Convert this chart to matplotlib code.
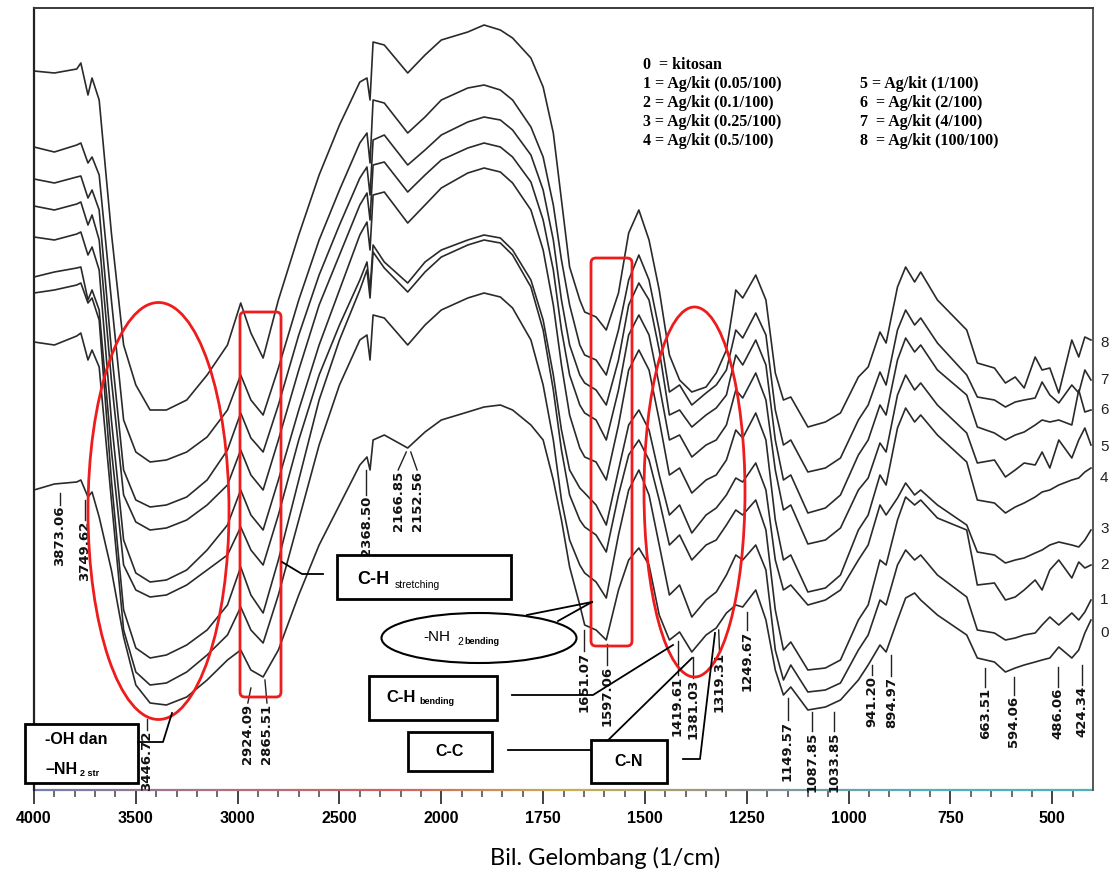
import numpy as np
import matplotlib
matplotlib.use("Agg")
import matplotlib.pyplot as plt
import matplotlib.transforms as mtransforms
from matplotlib.patches import Ellipse, Rectangle, FancyBboxPatch
from matplotlib.lines import Line2D
from matplotlib.collections import LineCollection
from matplotlib.colors import LinearSegmentedColormap
from matplotlib.ticker import FixedLocator

W, H = 1116, 875

# wavenumber grid (1/cm) where the spectra were read
wavenumber = [4000, 3900, 3790, 3770, 3735, 3715, 3680, 3620, 3560, 3500,
              3430, 3350, 3250, 3150, 3050, 2985, 2935, 2875, 2800, 2700,
              2600, 2500, 2400, 2365, 2350, 2335, 2280, 2165, 2080, 2000,
              1935, 1895, 1855, 1825, 1780, 1750, 1725, 1705, 1685, 1660,
              1648, 1620, 1595, 1565, 1540, 1515, 1490, 1465, 1440, 1415,
              1385, 1350, 1325, 1300, 1277, 1260, 1228, 1203, 1180, 1160,
              1142, 1100, 1057, 1020, 976, 952, 923, 908, 880, 860,
              838, 823, 782, 710, 684, 642, 615, 591, 569, 542,
              525, 506, 484, 452, 435, 420, 405]

# stacked spectra, vertical position (a.u., measured downward from the frame top)
s8 = [71, 73, 69, 63, 95, 78, 100, 233, 345, 385,
      410, 410, 400, 375, 345, 303, 333, 358, 300, 235,
      175, 125, 82, 78, 100, 42, 45, 73, 55, 40,
      32, 25, 30, 38, 58, 87, 133, 200, 267, 300,
      312, 317, 330, 293, 233, 210, 240, 290, 355, 380,
      392, 387, 373, 350, 290, 298, 275, 300, 373, 400,
      397, 427, 422, 413, 377, 367, 332, 343, 287, 267,
      282, 272, 300, 330, 363, 368, 383, 377, 388, 357,
      370, 368, 393, 340, 357, 337, 340]
s7 = [147, 152, 145, 143, 163, 157, 175, 300, 420, 452,
      462, 460, 452, 437, 410, 375, 400, 415, 368, 300,
      240, 190, 143, 133, 163, 100, 103, 133, 117, 100,
      88, 85, 90, 100, 127, 157, 205, 260, 305, 345,
      355, 360, 375, 330, 280, 255, 280, 330, 392, 385,
      405, 393, 385, 370, 330, 338, 313, 335, 410, 445,
      440, 472, 468, 458, 420, 405, 372, 385, 330, 310,
      325, 318, 343, 375, 397, 400, 407, 402, 400, 398,
      382, 395, 403, 385, 393, 370, 380]
s6 = [179, 183, 177, 176, 198, 190, 210, 350, 470, 500,
      507, 505, 497, 480, 450, 413, 438, 452, 405, 335,
      275, 225, 178, 167, 195, 140, 135, 165, 150, 135,
      122, 117, 120, 130, 155, 190, 240, 300, 345, 375,
      383, 390, 405, 360, 305, 283, 300, 350, 415, 410,
      427, 415, 408, 395, 355, 365, 340, 365, 440, 480,
      475, 513, 508, 495, 455, 440, 405, 415, 360, 338,
      352, 345, 370, 395, 427, 433, 440, 435, 432, 425,
      420, 422, 420, 425, 390, 412, 410]
s5 = [206, 210, 204, 202, 225, 215, 240, 380, 495, 522,
      530, 528, 520, 505, 485, 450, 475, 490, 440, 370,
      305, 255, 205, 193, 220, 165, 162, 192, 175, 160,
      148, 143, 147, 157, 182, 220, 270, 330, 375, 405,
      413, 420, 440, 390, 335, 315, 335, 385, 440, 435,
      457, 445, 440, 425, 390, 398, 373, 400, 470, 510,
      505, 544, 540, 528, 490, 478, 443, 452, 395, 375,
      390, 383, 405, 433, 463, 460, 477, 470, 463, 465,
      452, 468, 440, 458, 440, 428, 445]
s4 = [237, 240, 234, 232, 255, 247, 270, 420, 540, 573,
      582, 580, 570, 550, 525, 490, 515, 530, 480, 410,
      345, 290, 235, 222, 250, 195, 192, 223, 205, 188,
      173, 168, 172, 183, 210, 250, 305, 365, 415, 448,
      457, 462, 480, 425, 370, 350, 370, 420, 475, 468,
      493, 480, 475, 460, 430, 438, 413, 440, 520, 560,
      555, 592, 588, 575, 530, 515, 475, 485, 428, 408,
      422, 415, 435, 462, 500, 503, 513, 507, 503, 497,
      492, 490, 485, 480, 478, 472, 468]
s3 = [277, 272, 268, 267, 300, 290, 310, 450, 565, 590,
      597, 595, 585, 570, 555, 527, 550, 565, 515, 440,
      375, 325, 280, 262, 290, 245, 262, 283, 262, 250,
      240, 235, 238, 250, 280, 320, 375, 430, 470, 488,
      493, 505, 525, 470, 425, 410, 430, 475, 515, 505,
      533, 515, 508, 495, 478, 482, 463, 490, 560, 590,
      585, 605, 600, 590, 560, 545, 505, 515, 498, 483,
      495, 490, 505, 525, 552, 555, 563, 560, 558, 553,
      550, 545, 542, 545, 547, 540, 530]
s2 = [293, 290, 285, 283, 303, 298, 320, 480, 610, 648,
      658, 655, 645, 630, 605, 567, 595, 613, 560, 480,
      400, 340, 290, 270, 298, 252, 268, 292, 272, 257,
      245, 240, 243, 255, 287, 330, 390, 450, 495, 520,
      527, 535, 552, 495, 455, 440, 460, 500, 545, 535,
      560, 545, 540, 525, 510, 515, 500, 530, 610, 650,
      642, 670, 668, 660, 620, 605, 560, 565, 520, 497,
      505, 500, 518, 530, 585, 583, 600, 597, 590, 580,
      590, 570, 560, 578, 562, 568, 565]
s1 = [342, 345, 336, 333, 360, 350, 367, 500, 630, 672,
      685, 683, 672, 655, 635, 607, 630, 643, 595, 520,
      445, 385, 340, 335, 360, 315, 318, 345, 325, 310,
      298, 293, 297, 308, 340, 385, 440, 500, 540, 565,
      573, 582, 598, 535, 490, 470, 495, 545, 595, 585,
      617, 600, 592, 575, 555, 560, 545, 570, 650, 680,
      665, 692, 690, 683, 650, 635, 600, 605, 565, 550,
      560, 555, 575, 597, 630, 633, 640, 638, 635, 633,
      625, 617, 625, 613, 620, 612, 600]
s0 = [490, 484, 482, 480, 497, 492, 517, 570, 637, 685,
      703, 705, 697, 680, 660, 650, 670, 677, 650, 595,
      545, 505, 465, 457, 470, 440, 435, 448, 432, 420,
      412, 407, 405, 410, 425, 440, 480, 520, 567, 605,
      625, 630, 640, 590, 560, 548, 565, 615, 640, 632,
      652, 635, 628, 613, 605, 607, 590, 620, 670, 695,
      687, 710, 707, 700, 680, 665, 645, 652, 620, 598,
      593, 600, 615, 635, 658, 662, 672, 668, 665, 662,
      660, 658, 647, 658, 650, 633, 620]

spectra = [s0, s1, s2, s3, s4, s5, s6, s7, s8]
curve_ids = ["0", "1", "2", "3", "4", "5", "6", "7", "8"]
curve_label_y = [633, 600, 565, 529, 478, 447, 410, 380, 343]

legend_left = ["0  = kitosan", "1 = Ag/kit (0.05/100)", "2 = Ag/kit (0.1/100)",
               "3 = Ag/kit (0.25/100)", "4 = Ag/kit (0.5/100)"]
legend_right = ["5 = Ag/kit (1/100)", "6  = Ag/kit (2/100)",
                "7  = Ag/kit (4/100)", "8  = Ag/kit (100/100)"]

major_ticks = [4000, 3500, 3000, 2500, 2000, 1750, 1500, 1250, 1000, 750, 500]

# (label, wn at curve, y at curve, wn of text, y of text top)
peak_labels = [
    ("3873.06", 3873, 493, 3873, 506),
    ("3749.62", 3750, 500, 3750, 521),
    ("3446.72", 3447, 719, 3447, 731),
    ("2924.09", 2935, 688, 2950, 704),
    ("2865.51", 2866, 680, 2856, 704),
    ("2368.50", 2368, 470, 2368, 496),
    ("2166.85", 2172, 452, 2212, 471),
    ("2152.56", 2150, 452, 2119, 471),
    ("1651.07", 1650, 630, 1650, 652),
    ("1597.06", 1594, 644, 1594, 666),
    ("1419.61", 1420, 641, 1420, 676),
    ("1381.03", 1381, 657, 1381, 679),
    ("1319.31", 1319, 630, 1317, 652),
    ("1249.67", 1249, 612, 1249, 631),
    ("1149.57", 1150, 698, 1150, 721),
    ("1087.85", 1089, 712, 1089, 732),
    ("1033.85", 1035, 712, 1035, 732),
    ("941.20", 942, 665, 942, 676),
    ("894.97", 895, 655, 895, 677),
    ("663.51", 664, 668, 664, 688),
    ("594.06", 595, 677, 595, 696),
    ("486.06", 487, 667, 487, 688),
    ("424.34", 426, 665, 426, 686),
]


def fwd(w):
    w = np.asarray(w, dtype=float)
    return np.where(w >= 2000, (w - 2000) / 500.0, (w - 2000) / 250.0)


def inv(v):
    v = np.asarray(v, dtype=float)
    return np.where(v >= 0, 2000 + 500.0 * v, 2000 + 250.0 * v)


fig = plt.figure(figsize=(W / 100, H / 100), dpi=100)
ax = fig.add_axes([34 / W, 1 - 790 / H, (1093 - 34) / W, (790 - 8) / H])
pix = mtransforms.Affine2D().scale(1 / W, -1 / H).translate(0, 1) + fig.transFigure

for s in spectra:
    ax.plot(wavenumber, s, color="#2a2a2a", lw=1.2, zorder=2)

ax.set_xscale("function", functions=(fwd, inv))
ax.set_xlim(4000, 400)
ax.set_ylim(790, 8)

minor = [w for w in range(3900, 2000, -100) if w not in major_ticks]
minor += [w for w in range(1950, 400, -50) if w not in major_ticks]
ax.xaxis.set_major_locator(FixedLocator(major_ticks))
ax.xaxis.set_minor_locator(FixedLocator(minor))
ax.set_xticklabels([str(t) for t in major_ticks])
ax.tick_params(axis="x", which="major", direction="out", length=10, width=1.3,
               color="#333333", pad=5, labelsize=11.5)
ax.tick_params(axis="x", which="minor", direction="out", length=5, width=1.1,
               color="#444444")
for lab in ax.get_xticklabels():
    lab.set_fontweight("bold")
    lab.set_family("Liberation Sans")
ax.set_yticks([])

ax.spines["top"].set_color("#3a3a3a")
ax.spines["top"].set_linewidth(1.4)
ax.spines["left"].set_color("#222222")
ax.spines["left"].set_linewidth(1.6)
ax.spines["right"].set_color("#555555")
ax.spines["right"].set_linewidth(1.4)
ax.spines["bottom"].set_visible(False)

# scanned colour fringe on the x axis line
scan = LinearSegmentedColormap.from_list(
    "scan", ["#7080b0", "#b07080", "#d06060", "#c8b050", "#909090", "#50b0c0", "#50b0c0"])
xs = np.linspace(0, 1, 201)
segs = [[(xs[i], 0), (xs[i + 1], 0)] for i in range(200)]
ax.add_collection(LineCollection(segs, colors=scan(xs[:-1]), linewidths=1.6,
                                 transform=ax.transAxes, clip_on=False), autolim=False)

# curve numbers on the right
for cid, yv in zip(curve_ids, curve_label_y):
    fig.text(1100, yv, cid, transform=pix, ha="left", va="center",
             fontsize=11, family="Liberation Sans", color="#222222")

# legend text block
for i, t in enumerate(legend_left):
    fig.text(643, 65 + i * 19, t, transform=pix, ha="left", va="center",
             fontsize=11.5, family="Liberation Serif", fontweight="bold")
for i, t in enumerate(legend_right):
    fig.text(860, 84 + i * 19, t, transform=pix, ha="left", va="center",
             fontsize=11.5, family="Liberation Serif", fontweight="bold")

# peak labels
for lab, w0, y0, w1, y1 in peak_labels:
    ax.plot([w0, w1], [y0, y1 - 1], color="#222222", lw=1.0, zorder=3, clip_on=False)
    ax.text(w1, y1, lab, rotation=90, ha="center", va="top", fontsize=9.5,
            family=["Liberation Sans Narrow", "DejaVu Sans"], fontweight="bold",
            color="#111111", zorder=3, clip_on=False)

# red highlight shapes
red = "#ee1c1c"
fig.add_artist(Ellipse((158.5, 511), 141, 417, transform=pix, fill=False,
                       edgecolor=red, lw=2.0))
fig.add_artist(Ellipse((694.5, 492), 101, 370, transform=pix, fill=False,
                       edgecolor=red, lw=2.0))
fig.add_artist(FancyBboxPatch((240, 312), 41, 385, boxstyle="round,pad=0,rounding_size=5",
                              transform=pix, fill=False, edgecolor=red, lw=2.0))
fig.add_artist(FancyBboxPatch((591, 258), 41, 388, boxstyle="round,pad=0,rounding_size=5",
                              transform=pix, fill=False, edgecolor=red, lw=2.0))


# annotation boxes
def box(x, y, w, h):
    fig.add_artist(Rectangle((x, y), w, h, transform=pix, facecolor="white",
                             edgecolor="black", lw=2.0, zorder=3))


def leader(xs_, ys_):
    fig.add_artist(Line2D(xs_, ys_, transform=pix, color="black", lw=1.3, zorder=3))


def label(x, y, s, size, weight="bold", ha="left"):
    fig.text(x, y, s, transform=pix, ha=ha, va="center", fontsize=size,
             family="Liberation Sans", fontweight=weight, zorder=4)


box(25, 724, 113, 59)
label(45, 740, "-OH dan", 11.5)
label(45, 769, "\u2013NH", 11.5)
label(80, 773, "2 str", 6.5)
leader([138, 163, 172], [742, 742, 713])

box(337, 555, 174, 44)
label(357, 580, "C-H", 13)
label(395, 585, "stretching", 7.5, weight="normal")
leader([323, 302, 282], [574, 574, 562])

fig.add_artist(Ellipse((479, 638), 195, 50, transform=pix, facecolor="white",
                       edgecolor="black", lw=1.5, zorder=3))
leader([527, 592], [615, 602])
leader([558, 592], [621, 602])
label(423, 637, "-NH", 11, weight="normal")
label(457, 642, "2", 7.5, weight="normal")
label(464, 642, "bending", 6.5)

box(369, 676, 128, 44)
label(386, 697, "C-H", 12)
label(419, 701, "bending", 6.5)
leader([512, 593, 673], [695, 695, 645])

box(408, 732, 84, 39)
label(450, 751, "C-C", 11.5, ha="center")
leader([508, 598, 692], [750, 750, 658])

box(591, 740, 76, 43)
label(629, 761, "C-N", 11.5, ha="center")
leader([683, 700, 715], [759, 759, 633])

fig.text(605, 858, "Bil. Gelombang (1/cm)", transform=pix, ha="center", va="center",
         fontsize=17, family=["Lato", "DejaVu Sans"])

fig.savefig("out.png", dpi=100)
